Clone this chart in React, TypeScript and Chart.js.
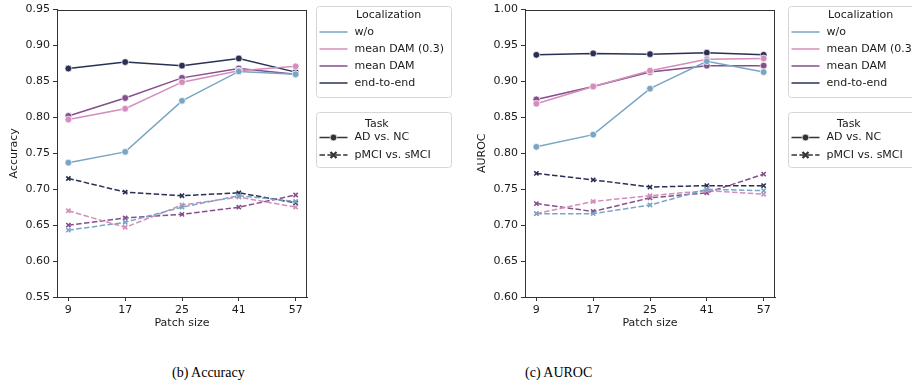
import React, { useEffect, useRef } from "react";
import { Chart, registerables } from "chart.js";
Chart.register(...registerables);

const patchSizes = ["9", "17", "25", "41", "57"];
const localizations = ["w/o", "mean DAM (0.3)", "mean DAM", "end-to-end"];
const tasks = ["AD vs. NC", "pMCI vs. sMCI"];
const locColors = ["#79a6c3", "#d48dbd", "#864e8c", "#2a3054"];

const accAdWo = [0.737, 0.752, 0.823, 0.864, 0.86];
const accAdMean03 = [0.797, 0.812, 0.849, 0.865, 0.871];
const accAdMean = [0.802, 0.827, 0.855, 0.868, 0.86];
const accAdE2E = [0.868, 0.877, 0.872, 0.882, 0.863];
const accMciWo = [0.643, 0.654, 0.675, 0.691, 0.683];
const accMciMean03 = [0.67, 0.647, 0.678, 0.689, 0.675];
const accMciMean = [0.65, 0.66, 0.665, 0.675, 0.692];
const accMciE2E = [0.715, 0.696, 0.691, 0.695, 0.681];

const aucAdWo = [0.809, 0.826, 0.89, 0.928, 0.913];
const aucAdMean03 = [0.869, 0.893, 0.915, 0.931, 0.932];
const aucAdMean = [0.875, 0.893, 0.913, 0.922, 0.922];
const aucAdE2E = [0.937, 0.939, 0.938, 0.94, 0.937];
const aucMciWo = [0.716, 0.716, 0.728, 0.75, 0.748];
const aucMciMean03 = [0.716, 0.733, 0.741, 0.748, 0.743];
const aucMciMean = [0.73, 0.719, 0.738, 0.745, 0.771];
const aucMciE2E = [0.772, 0.763, 0.753, 0.755, 0.755];

const accTicks = [0.55, 0.6, 0.65, 0.7, 0.75, 0.8, 0.85, 0.9, 0.95];
const aucTicks = [0.6, 0.65, 0.7, 0.75, 0.8, 0.85, 0.9, 0.95, 1.0];

const FONT = "'DejaVu Sans', sans-serif";
const TEXT = "#1a1a1a";

type PanelProps = {
  ad: number[][];
  mci: number[][];
  yTicks: number[];
  yTitle: string;
  width: number;
  height: number;
  legendX: number;
};

function drawLegends(ctx: CanvasRenderingContext2D, x0: number) {
  ctx.save();
  const rr = (x: number, y: number, w: number, h: number, r: number) => {
    ctx.beginPath();
    ctx.moveTo(x + r, y);
    ctx.lineTo(x + w - r, y);
    ctx.arcTo(x + w, y, x + w, y + r, r);
    ctx.lineTo(x + w, y + h - r);
    ctx.arcTo(x + w, y + h, x + w - r, y + h, r);
    ctx.lineTo(x + r, y + h);
    ctx.arcTo(x, y + h, x, y + h - r, r);
    ctx.lineTo(x, y + r);
    ctx.arcTo(x, y, x + r, y, r);
    ctx.closePath();
  };
  ctx.font = `11px ${FONT}`;
  ctx.textBaseline = "middle";
  ctx.textAlign = "left";
  // box 1
  rr(x0 + 0.5, 6.5, 135, 91, 3);
  ctx.fillStyle = "#fff";
  ctx.fill();
  ctx.strokeStyle = "#d6d6d6";
  ctx.lineWidth = 1;
  ctx.stroke();
  ctx.fillStyle = TEXT;
  ctx.fillText("Localization", x0 + 40, 15.5);
  localizations.forEach((name, i) => {
    const y = 32 + 17 * i;
    ctx.strokeStyle = locColors[i];
    ctx.lineWidth = 1.5;
    ctx.setLineDash([]);
    ctx.beginPath();
    ctx.moveTo(x0 + 3.5, y);
    ctx.lineTo(x0 + 31.5, y);
    ctx.stroke();
    ctx.fillStyle = TEXT;
    ctx.fillText(name, x0 + 38.5, y);
  });
  // box 2
  rr(x0 + 0.5, 112.5, 135, 55, 3);
  ctx.fillStyle = "#fff";
  ctx.fill();
  ctx.strokeStyle = "#d6d6d6";
  ctx.lineWidth = 1;
  ctx.stroke();
  ctx.fillStyle = TEXT;
  ctx.fillText("Task", x0 + 49, 124.5);
  tasks.forEach((name, i) => {
    const y = 137.5 + 17.5 * i;
    ctx.strokeStyle = "#333";
    ctx.lineWidth = 1.5;
    ctx.setLineDash(i === 0 ? [] : [5.5, 2.4]);
    ctx.beginPath();
    ctx.moveTo(x0 + 3.5, y);
    ctx.lineTo(x0 + 31.5, y);
    ctx.stroke();
    ctx.setLineDash([]);
    const cx = x0 + 17.5;
    if (i === 0) {
      ctx.beginPath();
      ctx.arc(cx, y, 3.4, 0, Math.PI * 2);
      ctx.fillStyle = "#333";
      ctx.fill();
      ctx.strokeStyle = "#fff";
      ctx.lineWidth = 0.7;
      ctx.stroke();
    } else {
      ctx.strokeStyle = "#333";
      ctx.lineWidth = 2.2;
      ctx.beginPath();
      ctx.moveTo(cx - 3, y - 3);
      ctx.lineTo(cx + 3, y + 3);
      ctx.moveTo(cx + 3, y - 3);
      ctx.lineTo(cx - 3, y + 3);
      ctx.stroke();
    }
    ctx.fillStyle = TEXT;
    ctx.fillText(name, x0 + 38.5, y);
  });
  ctx.restore();
}

function Panel({ ad, mci, yTicks, yTitle, width, height, legendX }: PanelProps) {
  const ref = useRef<HTMLCanvasElement | null>(null);
  useEffect(() => {
    if (!ref.current) return;
    const datasets: any[] = [];
    localizations.forEach((name, i) => {
      datasets.push({
        label: name + " / " + tasks[0],
        data: ad[i].map((v, k) => ({ x: k, y: v })),
        borderColor: locColors[i],
        backgroundColor: locColors[i],
        borderWidth: 1.5,
        pointStyle: "circle",
        pointRadius: 3.4,
        pointBackgroundColor: locColors[i],
        pointBorderColor: "#ffffff",
        pointBorderWidth: 0.7,
        tension: 0,
      });
    });
    localizations.forEach((name, i) => {
      datasets.push({
        label: name + " / " + tasks[1],
        data: mci[i].map((v, k) => ({ x: k, y: v })),
        borderColor: locColors[i],
        backgroundColor: locColors[i],
        borderWidth: 1.5,
        borderDash: [5.5, 2.4],
        pointStyle: "crossRot",
        pointRadius: 3,
        pointBorderColor: locColors[i],
        pointBorderWidth: 1.6,
        tension: 0,
      });
    });
    const plugin = {
      id: "frameAndLegend",
      afterDraw(chart: any) {
        const { ctx, chartArea } = chart;
        ctx.save();
        ctx.strokeStyle = "#333";
        ctx.lineWidth = 1;
        ctx.strokeRect(
          Math.round(chartArea.left) + 0.5,
          Math.round(chartArea.top) + 0.5,
          Math.round(chartArea.right - chartArea.left) - 1,
          Math.round(chartArea.bottom - chartArea.top)
        );
        ctx.restore();
        drawLegends(ctx, legendX);
      },
    };
    const chart = new Chart(ref.current, {
      type: "line",
      data: { datasets },
      plugins: [plugin],
      options: {
        responsive: false,
        animation: false,
        devicePixelRatio: 1,
        layout: { padding: { left: 0, top: 6, right: width - 307, bottom: 10 } },
        plugins: { legend: { display: false }, tooltip: { enabled: false } },
        scales: {
          x: {
            type: "linear",
            min: -0.2,
            max: 4.2,
            afterBuildTicks: (s: any) => {
              s.ticks = patchSizes.map((_, i) => ({ value: i }));
            },
            afterFit: (s: any) => {
              s.height = 33;
            },
            ticks: {
              callback: (_v: any, i: number) => patchSizes[i],
              font: { family: FONT, size: 11 },
              color: TEXT,
              padding: 3,
              maxRotation: 0,
            },
            grid: { drawOnChartArea: false, drawTicks: true, tickLength: 4, color: "#333" },
            border: { display: true, color: "#333" },
            title: {
              display: true,
              text: "Patch size",
              font: { family: FONT, size: 11 },
              color: TEXT,
              padding: { top: 0, bottom: 0 },
            },
          },
          y: {
            type: "linear",
            min: yTicks[0],
            max: yTicks[yTicks.length - 1],
            afterBuildTicks: (s: any) => {
              s.ticks = yTicks.map((v) => ({ value: v }));
            },
            afterFit: (s: any) => {
              s.width = 57;
            },
            ticks: {
              callback: (v: any) => Number(v).toFixed(2),
              font: { family: FONT, size: 11 },
              color: TEXT,
              padding: 3,
            },
            grid: { drawOnChartArea: false, drawTicks: true, tickLength: 4, color: "#333" },
            border: { display: true, color: "#333" },
            title: {
              display: true,
              text: yTitle,
              font: { family: FONT, size: 11 },
              color: TEXT,
              padding: { top: 8, bottom: 0 },
            },
          },
        },
      },
    } as any);
    return () => chart.destroy();
  }, []);
  return (
    <canvas
      ref={ref}
      width={width}
      height={height}
      style={{ width: width + "px", height: height + "px", display: "block" }}
    />
  );
}

export default function App() {
  const caption: React.CSSProperties = {
    position: "absolute",
    top: 364,
    fontFamily: "'Liberation Serif', 'Times New Roman', serif",
    fontSize: "14px",
    lineHeight: "18px",
    color: "#000",
    whiteSpace: "nowrap",
  };
  return (
    <div
      style={{
        position: "fixed",
        left: 0,
        top: 0,
        width: 912,
        height: 388,
        overflow: "hidden",
        background: "#fff",
      }}
    >
      <div style={{ position: "absolute", left: 0, top: 0 }}>
        <Panel
          ad={[accAdWo, accAdMean03, accAdMean, accAdE2E]}
          mci={[accMciWo, accMciMean03, accMciMean, accMciE2E]}
          yTicks={accTicks}
          yTitle="Accuracy"
          width={460}
          height={340}
          legendX={316}
        />
      </div>
      <div style={{ position: "absolute", left: 468, top: 0 }}>
        <Panel
          ad={[aucAdWo, aucAdMean03, aucAdMean, aucAdE2E]}
          mci={[aucMciWo, aucMciMean03, aucMciMean, aucMciE2E]}
          yTicks={aucTicks}
          yTitle="AUROC"
          width={444}
          height={340}
          legendX={320}
        />
      </div>
      <div style={{ ...caption, left: 172 }}>(b) Accuracy</div>
      <div style={{ ...caption, left: 525 }}>(c) AUROC</div>
    </div>
  );
}
